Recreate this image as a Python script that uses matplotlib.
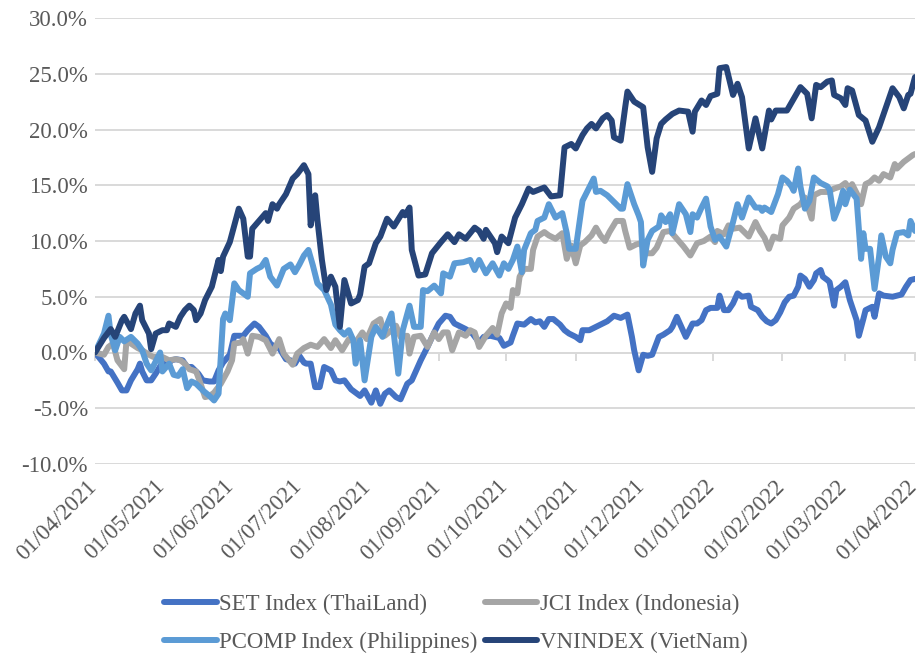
import matplotlib
matplotlib.use("Agg")
import matplotlib.pyplot as plt
import matplotlib.dates as mdates
import matplotlib.transforms as mtransforms
from matplotlib.ticker import FuncFormatter
import numpy as np

# ---------------- data (day offset from 01/04/2021, % change) ----------------
start_date = "2021-04-01"
end_date = "2022-04-01"

set_points = [(0,0.0),(4,-1.0),(6,-1.7),(7,-1.7),(10,-2.7),(12,-3.4),(14,-3.4),(16,-2.5),(19,-1.5),(20,-1.0),(21,-1.7),(23,-2.5),(25,-2.5),(27,-1.9),(30,-0.9),(32,-1.2),(34,-0.7),(36,-0.6),(39,-0.7),(41,-1.3),(43,-1.3),(46,-1.9),(48,-2.5),(51,-2.6),(53,-2.6),(55,-1.6),(57,-0.9),(60,-0.2),(62,1.5),(66,1.5),(68,2.0),(71,2.6),(73,2.3),(76,1.5),(78,0.8),(80,0.5),(82,0.4),(85,-0.6),(87,-0.7),(89,-1.0),(91,-0.3),(93,-0.9),(94,-1.0),(96,-1.0),(98,-3.1),(100,-3.1),(102,-1.3),(105,-1.6),(107,-2.5),(109,-2.6),(111,-2.5),(114,-3.3),(116,-3.6),(118,-3.9),(120,-3.4),(123,-4.5),(125,-3.4),(127,-4.6),(129,-3.7),(131,-3.4),(134,-4.0),(136,-4.2),(139,-2.8),(141,-2.5),(143,-1.6),(145,-0.7),(148,0.5),(151,1.8),(153,2.6),(156,3.3),(158,3.2),(160,2.6),(162,2.4),(165,2.1),(168,1.7),(171,0.9),(173,1.4),(176,1.5),(178,1.4),(180,1.3),(182,0.6),(185,0.9),(186,1.5),(188,2.6),(191,2.5),(194,3.0),(196,2.7),(198,2.8),(200,2.3),(202,3.0),(204,3.0),(207,2.5),(209,2.0),(211,1.7),(214,1.4),(216,1.1),(217,2.0),(220,2.0),(223,2.3),(226,2.6),(228,2.8),(231,3.3),(234,3.1),(237,3.4),(239,1.4),(240,0.2),(242,-1.6),(244,-0.2),(246,-0.3),(248,-0.2),(251,1.4),(253,1.6),(256,2.0),(257,2.3),(259,3.2),(261,2.3),(263,1.4),(266,2.6),(268,2.6),(270,2.9),(272,3.8),(274,4.0),(277,4.0),(278,5.1),(280,3.8),(282,3.8),(284,4.4),(286,5.3),(288,5.0),(291,5.1),(292,4.1),(295,3.8),(297,3.2),(299,2.8),(301,2.6),(303,2.9),(305,3.6),(307,4.5),(309,5.0),(311,5.1),(313,5.9),(314,6.9),(316,6.6),(318,5.9),(320,6.5),(321,7.1),(323,7.4),(324,6.8),(326,6.5),(327,6.3),(329,4.2),(330,5.6),(332,5.9),(334,6.3),(336,4.7),(337,4.1),(339,2.9),(340,1.5),(342,3.0),(343,3.8),(346,4.1),(347,3.2),(349,5.3),(351,5.1),(355,5.0),(357,5.1),(359,5.2),(361,5.9),(363,6.5),(365,6.6)]

jci_points = [(0,0.0),(4,-0.2),(6,0.5),(8,0.8),(10,-0.7),(13,-1.5),(14,1.0),(16,0.8),(19,0.4),(21,0.2),(24,-0.2),(26,-0.4),(30,-0.4),(33,-0.7),(36,-0.6),(38,-0.7),(40,-1.0),(42,-1.5),(45,-1.7),(47,-2.8),(49,-4.0),(51,-3.9),(53,-3.6),(56,-2.8),(59,-1.7),(61,-0.7),(62,0.8),(65,0.9),(66,1.2),(68,-0.1),(70,1.5),(73,1.4),(76,1.1),(79,-0.1),(82,1.2),(84,-0.1),(86,-0.6),(88,-1.1),(90,-0.1),(93,0.4),(96,0.7),(99,0.5),(102,1.2),(105,0.4),(107,1.1),(110,0.2),(113,1.2),(116,0.9),(119,1.8),(121,1.2),(124,2.6),(127,3.0),(129,1.5),(132,2.0),(134,2.4),(136,1.4),(139,1.5),(140,-0.1),(142,1.4),(145,1.5),(148,0.5),(151,1.8),(153,1.2),(155,1.8),(157,1.8),(159,0.2),(162,1.8),(165,1.5),(167,2.0),(169,1.8),(171,0.5),(174,1.5),(177,2.2),(179,1.6),(181,3.5),(183,4.4),(185,4.0),(186,5.6),(188,5.3),(189,6.8),(191,7.5),(194,7.5),(195,9.2),(197,10.4),(200,10.8),(202,10.5),(205,10.2),(208,10.7),(210,8.4),(212,9.6),(214,8.0),(216,9.6),(218,9.9),(221,10.5),(223,11.2),(225,10.5),(227,10.0),(229,10.8),(232,11.8),(235,11.8),(236,10.9),(238,9.4),(241,9.7),(243,9.8),(245,8.9),(248,8.9),(250,9.4),(253,10.8),(256,10.9),(259,10.2),(262,9.5),(265,8.7),(268,9.8),(271,10.0),(274,10.4),(276,9.9),(277,10.9),(280,10.6),(282,11.4),(284,11.1),(287,11.2),(289,10.8),(291,10.4),(294,11.7),(296,10.9),(298,10.3),(300,9.3),(302,10.4),(305,10.2),(306,11.4),(309,12.1),(311,12.9),(314,13.3),(316,13.9),(319,12.0),(320,14.1),(323,14.4),(326,14.4),(329,14.7),(332,14.9),(334,15.2),(336,14.6),(337,15.1),(340,13.9),(341,13.3),(343,15.1),(345,15.3),(347,15.7),(349,15.4),(351,16.0),(354,15.7),(356,16.9),(357,16.5),(360,17.1),(362,17.4),(364,17.7),(365,17.8)]

pcomp_points = [(0,0.0),(4,1.7),(6,3.3),(7,1.6),(9,0.2),(11,1.4),(13,1.0),(16,1.4),(19,0.8),(21,0.2),(23,-1.0),(25,-1.6),(27,-0.8),(29,0.0),(30,-1.7),(33,-1.0),(35,-2.0),(37,-2.1),(39,-1.5),(41,-3.2),(43,-2.6),(45,-2.8),(48,-3.4),(51,-3.9),(53,-4.3),(55,-3.7),(57,3.0),(58,3.5),(60,2.9),(62,6.2),(64,5.6),(68,5.0),(69,7.1),(72,7.5),(74,7.7),(76,8.3),(78,6.8),(81,6.0),(84,7.5),(87,7.9),(89,7.2),(91,7.9),(93,8.7),(95,9.2),(97,7.8),(99,6.2),(102,5.6),(105,4.3),(107,2.5),(109,2.0),(111,1.6),(113,2.0),(115,1.1),(116,-1.0),(118,1.1),(120,-2.5),(123,1.4),(125,2.3),(128,1.4),(129,2.0),(132,3.5),(135,-1.9),(137,2.0),(140,4.2),(142,2.3),(145,2.3),(146,5.6),(148,5.5),(151,6.0),(154,5.3),(155,7.1),(158,6.8),(160,8.0),(164,8.1),(167,8.3),(169,7.4),(171,8.3),(174,7.1),(177,8.0),(180,6.9),(182,8.0),(184,7.5),(186,8.3),(188,9.5),(190,7.2),(191,9.2),(194,10.7),(196,11.0),(197,11.8),(200,12.1),(202,13.3),(205,12.1),(208,12.5),(210,10.7),(211,9.3),(214,9.3),(217,13.6),(219,14.4),(222,15.6),(223,14.4),(225,14.5),(228,14.1),(231,13.5),(234,12.9),(235,12.9),(237,15.1),(240,13.3),(242,12.3),(243,11.7),(244,7.8),(246,10.1),(248,10.9),(251,11.3),(252,12.3),(254,11.7),(256,12.4),(257,10.7),(260,13.3),(263,12.4),(265,10.8),(266,12.4),(268,12.1),(270,13.0),(272,13.8),(274,11.3),(276,10.1),(278,10.4),(281,9.5),(284,11.7),(286,13.3),(288,12.1),(291,13.9),(294,13.0),(296,13.0),(297,12.7),(298,13.0),(301,12.6),(304,14.2),(306,15.7),(308,15.4),(310,14.9),(311,14.5),(313,16.5),(314,14.9),(316,12.9),(318,13.6),(320,15.7),(323,15.2),(326,14.9),(327,14.6),(329,12.0),(331,13.0),(333,14.5),(334,13.3),(336,14.6),(339,13.8),(341,8.4),(342,10.7),(343,9.3),(345,9.3),(347,5.7),(349,8.6),(350,10.5),(352,8.6),(354,8.0),(355,9.2),(357,10.7),(360,10.8),(362,10.5),(363,11.8),(365,10.9)]

vn_points = [(0,0.0),(4,1.3),(7,2.1),(9,1.4),(12,2.9),(13,3.2),(16,2.1),(18,3.5),(20,4.2),(21,2.9),(24,1.7),(25,0.3),(27,1.7),(30,2.0),(32,2.0),(33,2.6),(36,2.3),(38,3.2),(40,3.8),(42,4.2),(44,3.8),(45,2.9),(47,3.5),(49,4.7),(52,5.9),(55,8.3),(56,7.3),(57,8.6),(60,9.9),(64,12.9),(66,12.0),(68,8.6),(69,8.6),(70,11.1),(73,11.8),(76,12.5),(77,11.8),(79,13.3),(81,12.9),(82,13.3),(85,14.2),(88,15.6),(90,16.0),(93,16.8),(95,16.0),(96,11.4),(98,14.1),(99,11.9),(101,8.3),(103,5.6),(105,6.8),(107,5.9),(109,2.3),(111,6.5),(114,4.4),(117,4.7),(118,5.2),(120,7.7),(122,8.0),(125,9.8),(127,10.4),(130,12.0),(133,11.3),(137,12.6),(138,12.3),(140,13.0),(141,9.2),(144,6.9),(147,7.0),(150,8.9),(154,9.9),(157,10.6),(160,9.9),(162,10.6),(165,10.2),(169,11.2),(171,10.9),(173,10.2),(174,11.0),(178,9.8),(179,9.0),(181,10.4),(184,9.8),(187,12.1),(190,13.3),(193,14.7),(195,14.4),(200,14.8),(203,14.0),(207,14.1),(209,18.4),(212,18.7),(214,18.3),(217,19.5),(219,20.1),(221,20.5),(223,20.1),(226,21.0),(228,21.3),(230,20.8),(231,19.3),(234,19.0),(236,22.0),(237,23.4),(240,22.5),(244,22.0),(246,18.4),(248,16.2),(250,19.2),(252,20.5),(254,20.9),(257,21.4),(260,21.7),(264,21.6),(266,19.8),(267,21.6),(270,22.6),(272,22.2),(274,23.0),(277,23.2),(278,25.5),(281,25.6),(284,23.1),(286,24.1),(288,22.9),(291,18.3),(294,21.0),(297,18.3),(300,21.7),(301,20.9),(303,21.7),(308,21.7),(314,23.8),(317,23.2),(319,21.0),(321,24.0),(323,23.8),(326,24.3),(328,24.4),(329,23.1),(332,22.8),(334,22.2),(335,23.7),(337,23.5),(340,21.3),(343,20.8),(346,18.9),(349,20.2),(355,23.7),(358,22.9),(360,21.9),(362,23.1),(363,23.2),(365,24.7)]

series_names = ["SET Index (ThaiLand)", "JCI Index (Indonesia)",
                "PCOMP Index (Philippines)", "VNINDEX (VietNam)"]
series_colors = ["#4472C4", "#A5A5A5", "#5B9BD5", "#264478"]

y_ticks = [-10, -5, 0, 5, 10, 15, 20, 25, 30]
tick_labels = ["01/04/2021", "01/05/2021", "01/06/2021", "01/07/2021",
               "01/08/2021", "01/09/2021", "01/10/2021", "01/11/2021",
               "01/12/2021", "01/01/2022", "01/02/2022", "01/03/2022",
               "01/04/2022"]

# ---------------- drawing ----------------
FONT = "Liberation Serif"
FS = 16.5
TXT = "#595959"
GRID = "#D9D9D9"

plt.rcParams["font.family"] = [FONT, "DejaVu Serif"]

start = np.datetime64(start_date)
end = np.datetime64(end_date)


def to_xy(points):
    d = np.array([p[0] for p in points])
    v = np.array([p[1] for p in points])
    return start + d.astype("timedelta64[D]"), v


fig = plt.figure(figsize=(9.23, 6.59), dpi=100)
ax = fig.add_axes([95 / 923, 1 - 464 / 659, 820 / 923, 446 / 659])

handles = []
for name, pts, col in zip(series_names,
                          [set_points, jci_points, pcomp_points, vn_points],
                          series_colors):
    x, y = to_xy(pts)
    ln, = ax.plot(x, y, color=col, lw=4.3, solid_joinstyle="round",
                  solid_capstyle="round", label=name, zorder=3)
    handles.append(ln)

ax.set_xlim(start, end)
ax.set_ylim(y_ticks[0], y_ticks[-1])
ax.set_yticks(y_ticks)
ax.yaxis.set_major_formatter(FuncFormatter(lambda v, _: f"{v:.1f}%"))
ax.grid(axis="y", color=GRID, lw=1.4)
ax.set_axisbelow(True)
for s in ["left", "right", "top"]:
    ax.spines[s].set_visible(False)
ax.spines["bottom"].set_position(("data", 0))
ax.spines["bottom"].set_color(GRID)
ax.spines["bottom"].set_linewidth(1.4)
ax.spines["bottom"].set_zorder(1)

tick_dates = np.arange(np.datetime64("2021-04"), np.datetime64("2022-05"),
                       np.timedelta64(1, "M")).astype("datetime64[D]")
ax.set_xticks(tick_dates)
ax.tick_params(axis="x", length=6, width=1.4, color=GRID, labelbottom=False)
ax.tick_params(axis="y", length=0, pad=5, labelcolor=TXT, labelsize=FS)

base_tr = mtransforms.blended_transform_factory(ax.transData, ax.transAxes)
lab_tr = mtransforms.offset_copy(base_tr, fig=fig, x=6, y=-12, units="dots")
for d, lab in zip(tick_dates, tick_labels):
    ax.text(mdates.date2num(d), 0, lab, transform=lab_tr, rotation=45,
            ha="right", va="top", fontsize=FS, color=TXT)

order = [0, 2, 1, 3]
leg = fig.legend([handles[i] for i in order], [series_names[i] for i in order],
                 ncol=2, loc="center", bbox_to_anchor=(0.494, 0.054),
                 frameon=False, fontsize=FS, handlelength=2.3,
                 handletextpad=0.12, columnspacing=0.3, labelspacing=0.75)
for t in leg.get_texts():
    t.set_color(TXT)

fig.savefig("out.png", dpi=100)
